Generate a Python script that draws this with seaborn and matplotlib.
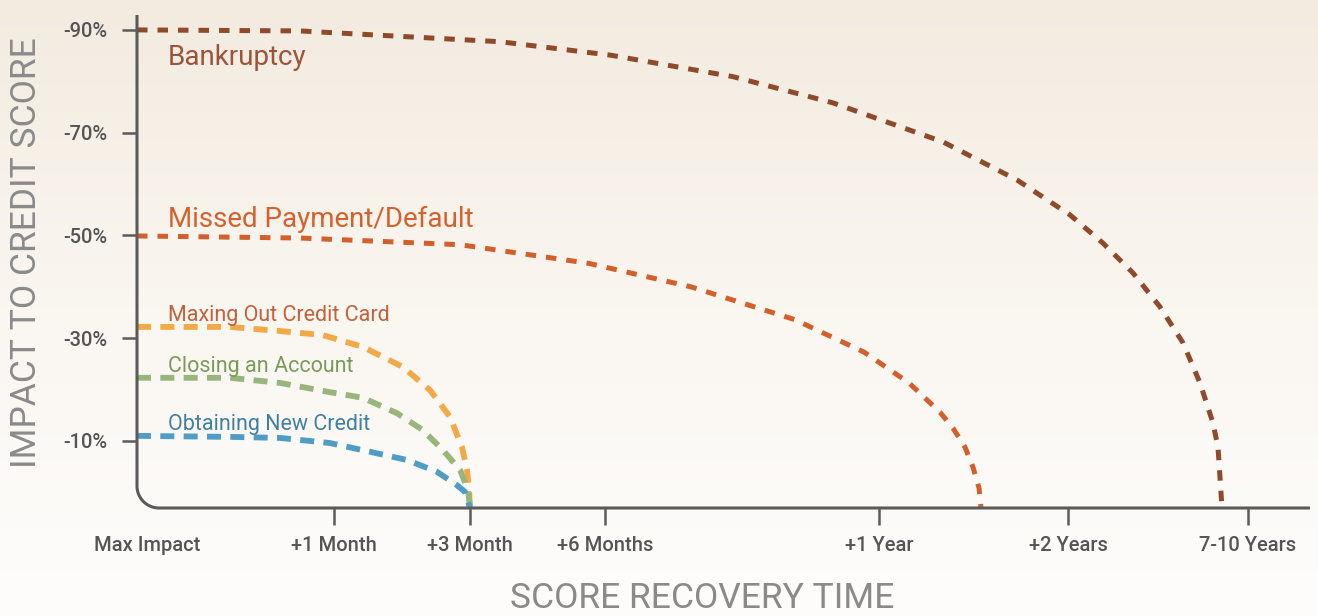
import numpy as np
import pandas as pd
import matplotlib
matplotlib.use("Agg")
import matplotlib.pyplot as plt
import seaborn as sns

# x = recovery position (axis units), y = impact in % (shown as negative)
bankruptcy_x = [0, 1.63, 3.63, 4.73, 5.96, 6.96, 8.06, 8.80, 9.33, 9.66, 9.96, 10.23, 10.46, 10.63, 10.76, 10.81, 10.85]
bankruptcy_y = [90, 89.8, 87.7, 85.1, 80.9, 75.8, 68.2, 60.8, 54.0, 48.5, 42.7, 36.1, 29.1, 21.3, 13.5, 8.8, -3.0]

missed_x = [0, 1.63, 3.23, 4.51, 5.54, 6.58, 7.27, 7.72, 8.03, 8.16, 8.28, 8.36, 8.42, 8.44]
missed_y = [49.9, 49.5, 48.2, 44.6, 40.0, 33.6, 27.3, 21.3, 15.6, 12.5, 8.8, 4.9, 0.85, -3.0]

maxing_x = [0, 0.93, 1.43, 1.86, 2.26, 2.66, 2.93, 3.13, 3.25, 3.30, 3.32, 3.33]
maxing_y = [32.2, 32.2, 31.4, 30.6, 28.3, 24.4, 19.9, 14.7, 8.8, 4.4, 0.5, -3.0]

closing_x = [0, 0.93, 1.43, 1.93, 2.26, 2.60, 2.86, 3.06, 3.23, 3.31, 3.33]
closing_y = [22.3, 22.3, 21.3, 19.5, 18.4, 15.4, 12.1, 8.2, 4.4, 0.5, -3.0]

obtaining_x = [0, 0.93, 1.43, 1.93, 2.33, 2.70, 3.00, 3.20, 3.28, 3.33]
obtaining_y = [11.0, 10.8, 10.6, 9.6, 7.9, 6.3, 4.0, 1.4, 0.1, -3.0]

factors = ["Bankruptcy", "Missed Payment/Default", "Maxing Out Credit Card",
           "Closing an Account", "Obtaining New Credit"]
line_colors = ["#8f4a2c", "#d35f2b", "#f2a947", "#98b57c", "#4f9dc5"]
text_colors = ["#9a553a", "#d4622f", "#c2613b", "#7b9b5b", "#3f81a2"]

x_tick_pos = [0.1, 1.97, 3.33, 4.68, 7.42, 9.31, 11.11]
x_tick_labels = ["Max Impact", "+1 Month", "+3 Month", "+6 Months", "+1 Year", "+2 Years", "7-10 Years"]
y_tick_pos = [90, 70, 50, 30, 10]
y_tick_labels = ["-90%", "-70%", "-50%", "-30%", "-10%"]

series_x = [bankruptcy_x, missed_x, maxing_x, closing_x, obtaining_x]
series_y = [bankruptcy_y, missed_y, maxing_y, closing_y, obtaining_y]
rows = []
for name, xs, ys in zip(factors, series_x, series_y):
    for i, (xv, yv) in enumerate(zip(xs, ys)):
        rows.append({"factor": name, "order": i, "recovery": xv, "impact": yv})
df = pd.DataFrame(rows)

sns.set_style("white")
plt.rcParams["font.family"] = ["Roboto", "DejaVu Sans"]

W, H = 1318, 616
fig = plt.figure(figsize=(W / 100, H / 100), dpi=100)

# background gradient
bg = fig.add_axes([0, 0, 1, 1], zorder=-5)
top_col = np.array([243, 235, 224]) / 255
mid_col = np.array([250, 246, 240]) / 255
bot_col = np.array([254, 253, 252]) / 255
t = np.linspace(0, 1, 300)[:, None]
grad = np.where(t < 0.5, top_col + (mid_col - top_col) * (t / 0.5),
                mid_col + (bot_col - mid_col) * ((t - 0.5) / 0.5))
bg.imshow(grad[:, None, :].repeat(2, axis=1), aspect="auto", extent=[0, 1, 0, 1])
bg.axis("off")

left, right, bottom, top = 137, 1310, 508, 15
ax = fig.add_axes([left / W, (H - bottom) / H, (right - left) / W, (bottom - top) / H])
ax.patch.set_alpha(0)

sns.lineplot(data=df, x="recovery", y="impact", hue="factor", hue_order=factors,
             palette=line_colors, sort=False, estimator=None, units="factor",
             legend=False, ax=ax)
for i, line in enumerate(ax.lines):
    if i < 2:
        line.set_linewidth(3.6)
        line.set_dashes((2.1, 2.0))
    else:
        line.set_linewidth(4.2)
        line.set_dashes((2.4, 1.6))
    line.set_dash_capstyle("butt")
    line.set_clip_on(False)
    line.set_zorder(3 + i * 0.1)

ax.set_xlim(0, 11.73)
ax.set_ylim(-3.04, 92.9)

for s in ax.spines.values():
    s.set_visible(False)

# axis line with rounded corner
rx, ry = 22 / (right - left), 22 / (bottom - top)
th = np.linspace(np.pi, 1.5 * np.pi, 30)
sx = np.concatenate([[0], rx + rx * np.cos(th), [1]])
sy = np.concatenate([[1], ry + ry * np.sin(th), [0]])
ax.plot(sx, sy, transform=ax.transAxes, color="#5b5b5b", lw=2.2, clip_on=False,
        zorder=5, solid_capstyle="butt")

ax.set_xticks(x_tick_pos)
ax.set_xticklabels(x_tick_labels)
ax.set_yticks(y_tick_pos)
ax.set_yticklabels(y_tick_labels)
ax.tick_params(axis="both", which="major", direction="out", color="#5b5b5b",
               width=1.8, labelcolor="#555555", labelsize=14.5)
ax.tick_params(axis="y", length=11, pad=10, left=True)
ax.tick_params(axis="x", length=12, pad=8, bottom=True)
for lab in ax.get_xticklabels() + ax.get_yticklabels():
    lab.set_fontweight("medium")
ax.xaxis.get_major_ticks()[0].tick1line.set_visible(False)
ax.set_xlabel("")
ax.set_ylabel("")
ax.grid(False)

# curve labels
label_pos = [(0.31, 83.2, 20), (0.31, 51.65, 20), (0.31, 33.4, 15.5),
             (0.31, 23.4, 15.5), (0.31, 12.1, 15.5)]
for name, col, (lx, ly, fs) in zip(factors, text_colors, label_pos):
    ax.text(lx, ly, name, color=col, fontsize=fs, fontweight="normal",
            va="baseline", ha="left", zorder=6)

fig.text(27 / W, 1 - 253 / H, "IMPACT TO CREDIT SCORE", rotation=90,
         ha="center", va="center", fontsize=25.5, color="#8a8a8a")
fig.text(702 / W, 1 - 598 / H, "SCORE RECOVERY TIME", ha="center", va="center",
         fontsize=25.5, color="#8a8a8a")

fig.savefig("out.png", dpi=100)
